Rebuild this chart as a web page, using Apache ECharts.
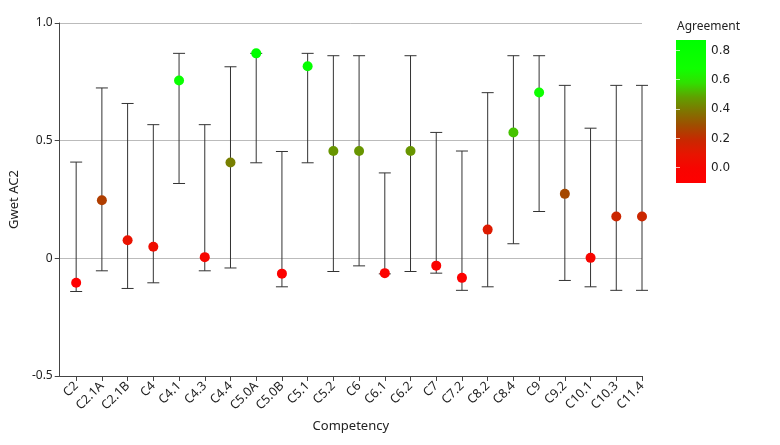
<!DOCTYPE html>
<html>
<head>
<meta charset="utf-8">
<script src="https://cdn.jsdelivr.net/npm/echarts@6/dist/echarts.min.js"></script>
<style>
  html, body { margin: 0; padding: 0; background: #fff; }
  #chart { width: 780px; height: 445px; }
</style>
</head>
<body>
<div id="chart"></div>
<script>
// competencies on the x axis
var categories = ['C2', 'C2.1A', 'C2.1B', 'C4', 'C4.1', 'C4.3', 'C4.4', 'C5.0A', 'C5.0B', 'C5.1', 'C5.2', 'C6',
  'C6.1', 'C6.2', 'C7', 'C7.2', 'C8.2', 'C8.4', 'C9', 'C9.2', 'C10.1', 'C10.3', 'C11.4'];
// Gwet AC2 point estimates
var estimates = [-0.104, 0.247, 0.077, 0.049, 0.756, 0.005, 0.407, 0.871, -0.065, 0.816, 0.456, 0.456,
  -0.063, 0.456, -0.031, -0.083, 0.122, 0.535, 0.705, 0.274, 0.002, 0.178, 0.178];
// confidence interval bounds
var lowerCI = [-0.141, -0.053, -0.128, -0.104, 0.318, -0.053, -0.041, 0.406, -0.121, 0.406, -0.056, -0.032,
  -0.066, -0.056, -0.063, -0.136, -0.121, 0.062, 0.199, -0.094, -0.121, -0.136, -0.136];
var upperCI = [0.409, 0.724, 0.658, 0.568, 0.871, 0.568, 0.814, 0.871, 0.454, 0.871, 0.861, 0.861,
  0.363, 0.861, 0.535, 0.456, 0.704, 0.861, 0.861, 0.735, 0.553, 0.735, 0.735];
// legend ticks
var legendTicks = [0, 0.2, 0.4, 0.6, 0.8];
// red -> green scale (low -> high)
var agreementColors = ['#ff0000', '#f80400', '#e81400', '#c82800', '#a04c00', '#807400',
  '#60a000', '#30e000', '#10ff00', '#08ff00', '#00ff00'];

var font = 'Noto Sans';
var minVal = Math.min.apply(null, estimates);
var maxVal = Math.max.apply(null, estimates);
var idx = categories.map(function (c, i) { return i; });

var pointData = estimates.map(function (v, i) { return [i, v]; });
var ciData = lowerCI.map(function (v, i) { return [i, v, upperCI[i]]; });

var gradStops = agreementColors.map(function (c, i) {
  return { offset: 1 - i / (agreementColors.length - 1), color: c };
});

var chart = echarts.init(document.getElementById('chart'));
chart.setOption({
  animation: false,
  textStyle: { fontFamily: font },
  title: {
    text: 'Agreement', left: 677, top: 21, padding: 0,
    textStyle: { fontSize: 12, fontWeight: 'normal', color: '#222', fontFamily: font }
  },
  grid: [
    { left: 50, right: 138, top: 23, bottom: 69 },
    { left: 676, top: 40, width: 30, height: 143 }
  ],
  xAxis: [
    {
      type: 'value', gridIndex: 0, min: -0.64, max: 22,
      name: 'Competency', nameLocation: 'middle', nameGap: 44,
      nameTextStyle: { fontSize: 13, color: '#222' },
      axisLine: { show: true, onZero: false, lineStyle: { color: '#444' } },
      axisTick: { show: true, length: 5, customValues: idx, lineStyle: { color: '#444' } },
      axisLabel: {
        customValues: idx, rotate: 45, fontSize: 12.5, color: '#222', margin: 8,
        formatter: function (v) { return categories[Math.round(v)]; }
      },
      splitLine: { show: false }
    },
    { type: 'value', gridIndex: 1, min: 0, max: 1, show: false }
  ],
  yAxis: [
    {
      type: 'value', gridIndex: 0, min: -0.5, max: 1, interval: 0.5,
      name: 'Gwet AC2', nameLocation: 'middle', nameGap: 31,
      nameTextStyle: { fontSize: 13, color: '#222' },
      axisLine: { show: true, onZero: false, lineStyle: { color: '#444' } },
      axisTick: { show: true, length: 5, lineStyle: { color: '#444' } },
      axisLabel: {
        fontSize: 12, color: '#222', margin: 7,
        formatter: function (v) { return v === 0 ? '0' : v.toFixed(1); }
      },
      splitLine: { show: true, lineStyle: { color: '#bbb' } }
    },
    {
      type: 'value', gridIndex: 1, min: minVal, max: maxVal, position: 'right', z: 5,
      axisLine: { show: false },
      axisTick: { show: true, inside: true, length: 4, customValues: legendTicks, lineStyle: { color: 'rgba(255,255,255,0.7)' } },
      axisLabel: {
        customValues: legendTicks, fontSize: 12, color: '#222', margin: 5, fontFamily: 'DejaVu Sans',
        formatter: function (v) { return v.toFixed(1); }
      },
      splitLine: { show: false }
    },
    {
      type: 'value', gridIndex: 1, min: minVal, max: maxVal, position: 'left', z: 5,
      axisLine: { show: false },
      axisTick: { show: true, inside: true, length: 4, customValues: legendTicks, lineStyle: { color: 'rgba(255,255,255,0.7)' } },
      axisLabel: { show: false },
      splitLine: { show: false }
    }
  ],
  visualMap: {
    show: false, type: 'continuous', seriesIndex: 1, dimension: 1,
    min: minVal, max: maxVal,
    inRange: { color: agreementColors }
  },
  series: [
    {
      // confidence interval whiskers
      type: 'custom', xAxisIndex: 0, yAxisIndex: 0,
      encode: { x: 0, y: [1, 2] },
      data: ciData,
      renderItem: function (params, api) {
        var lo = api.coord([api.value(0), api.value(1)]);
        var hi = api.coord([api.value(0), api.value(2)]);
        var w = 6;
        var st = { stroke: '#333', lineWidth: 1 };
        return {
          type: 'group',
          children: [
            { type: 'line', shape: { x1: lo[0], y1: lo[1], x2: hi[0], y2: hi[1] }, style: st },
            { type: 'line', shape: { x1: lo[0] - w, y1: lo[1], x2: lo[0] + w, y2: lo[1] }, style: st },
            { type: 'line', shape: { x1: hi[0] - w, y1: hi[1], x2: hi[0] + w, y2: hi[1] }, style: st }
          ]
        };
      }
    },
    {
      type: 'scatter', xAxisIndex: 0, yAxisIndex: 0,
      symbolSize: 10, data: pointData, z: 3,
      itemStyle: { opacity: 1 }
    },
    {
      // colour scale bar
      type: 'custom', xAxisIndex: 1, yAxisIndex: 1,
      data: [[0, minVal, maxVal]],
      renderItem: function (params, api) {
        var top = api.coord([0, api.value(2)]);
        var bottom = api.coord([0, api.value(1)]);
        var cs = params.coordSys;
        return {
          type: 'rect',
          shape: { x: cs.x, y: top[1], width: cs.width, height: bottom[1] - top[1] },
          style: { fill: new echarts.graphic.LinearGradient(0, 0, 0, 1, gradStops) }
        };
      }
    }
  ]
});
</script>
</body>
</html>
